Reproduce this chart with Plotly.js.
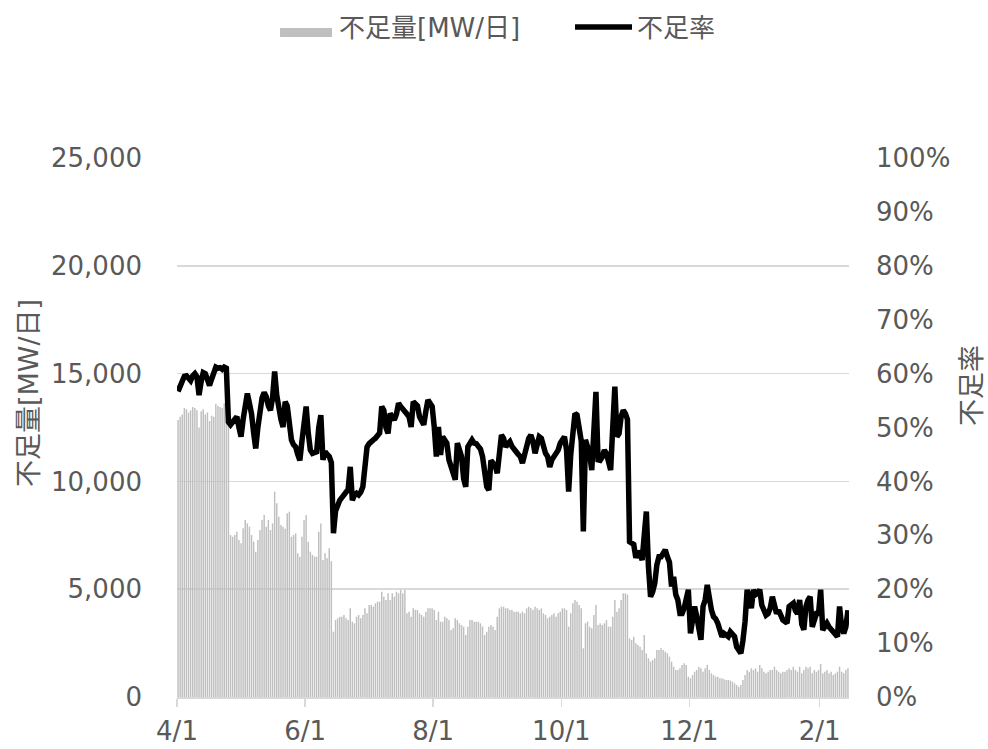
<!DOCTYPE html>
<html>
<head>
<meta charset="utf-8">
<script src="https://cdn.plot.ly/plotly-3.0.1.min.js"></script>
<style>html,body{margin:0;padding:0;background:#fff;}#chart{width:988px;height:749px;}</style>
</head>
<body>
<div id="chart"></div>
<script>
// Daily series starting 4/1 (first day) through 2/14
const startDate = '2021-04-01 12:00';
const seriesNames = ['不足量[MW/日]', '不足率'];
const axisTitles = ['不足量[MW/日]', '不足率'];

// 不足量 [MW/日]
const shortageMW = [
12850,13000,13100,13400,13350,13200,13300,13450,13400,13300,
12500,13250,13350,13100,13200,12800,13050,13000,13600,13500,
13450,13400,13620,13550,13500,7513,7436,7513,7667,7281,
7127,7822,8208,8053,7899,7513,7204,6740,7281,7744,
8208,8440,7899,8208,7744,8053,9523,8982,8363,7976,
7899,7800,8517,8595,7436,7513,7590,6663,6508,7436,
8208,8440,7204,6740,6586,6508,6508,7667,8053,6354,
6663,6431,6895,6300,3030,3571,3648,3725,3725,3803,
3648,3571,4112,3493,3416,3725,3803,3648,3803,4112,
3880,4266,4266,4189,4344,4421,4421,4885,4653,4498,
4808,4498,4808,4653,4885,4808,4962,4808,4962,3880,
3957,3725,4112,4035,4035,3880,3803,3725,3957,4112,
4112,4112,4035,3571,3957,3493,3493,3725,3648,3571,
3107,3184,3648,3571,3416,3339,3262,2875,3262,3571,
3571,3493,3493,3493,3416,3262,2875,3030,3262,3339,
3262,3107,3725,4112,4189,4189,4112,4112,4035,4035,
3957,3957,3957,3880,3957,3880,4112,4189,4112,4035,
4189,4112,4035,4112,3880,3803,3648,3725,3803,3880,
3725,3880,3957,4112,4112,4035,3262,3880,4344,4498,
4421,4266,4112,2257,3416,3493,3262,3184,3803,4266,
3339,3416,3339,3416,3571,3262,3262,3725,4498,3957,
4112,4498,4808,4808,4750,2720,2643,2797,2489,2411,
2334,2179,2875,2025,1792,1638,1715,1792,2179,2179,
2257,2179,2102,2025,1870,1638,1406,1251,1251,1329,
1483,1560,1483,942,865,1019,1174,1251,1406,1329,
1174,1329,1483,1251,1097,1019,942,942,865,865,
820,788,788,760,710,633,556,479,556,788,
1019,1251,1174,1329,1251,1329,1174,1483,1329,1174,
1097,1174,1251,1251,1406,1251,1174,1097,1174,1174,
1251,1329,1251,1406,1251,1174,1406,1097,1251,1406,
1329,1406,1097,1251,1174,1251,1530,1097,1174,1251,
1097,1174,1019,1097,1174,1406,1174,1097,1251,1329
];

// 不足率 [%]
const shortageRate = [
56.7,57.5,58.5,59.5,59.6,59.0,58.7,59.6,60.0,59.4,
56.0,58.5,60.2,60.0,58.5,57.8,59.0,60.5,61.2,61.0,
61.1,60.8,61.2,61.0,51.0,50.5,51.0,51.8,52.0,50.0,
48.3,51.5,55.0,56.3,54.5,52.5,49.0,46.1,50.0,53.9,
55.5,56.5,55.7,54.0,53.2,55.5,60.4,56.0,53.0,51.5,
50.1,54.8,54.0,51.0,47.7,46.8,46.4,45.0,43.9,47.5,
52.0,53.9,49.0,45.8,45.2,45.5,45.5,50.0,52.3,44.0,
45.5,45.0,44.6,43.5,30.4,34.5,36.0,36.5,37.0,37.5,
37.8,38.5,42.7,36.5,37.5,37.8,37.5,38.0,39.0,42.7,
46.4,47.0,47.5,47.7,48.0,48.5,49.0,53.9,53.2,50.0,
48.9,52.6,52.0,51.4,52.5,54.5,53.9,53.5,53.2,52.5,
52.0,50.1,54.8,54.5,54.0,52.0,51.0,50.5,53.0,55.1,
54.5,53.9,50.1,44.6,50.1,44.9,48.3,47.5,47.1,44.0,
42.7,42.1,40.3,47.1,45.5,44.6,40.5,39.0,46.4,47.4,
47.7,47.1,47.0,46.5,46.0,44.6,41.0,39.0,38.4,43.9,
43.4,43.0,41.5,44.5,48.6,48.0,46.4,47.0,47.4,46.5,
45.8,45.5,45.0,44.6,43.4,45.0,46.4,48.0,48.6,47.4,
45.2,47.5,48.3,48.0,46.5,45.2,44.6,42.7,44.0,44.6,
45.5,45.8,47.1,47.7,48.3,45.8,38.1,45.0,50.5,52.6,
52.3,49.0,47.5,30.7,47.7,46.4,45.0,42.1,51.0,56.6,
44.0,43.9,44.5,45.8,45.2,44.0,42.1,50.0,57.6,48.3,
48.9,52.0,53.2,52.6,51.5,28.8,28.5,28.3,25.8,27.0,
26.5,25.4,30.0,34.4,24.2,18.6,19.5,21.1,24.5,26.0,
26.0,26.5,27.3,26.0,25.0,20.5,22.3,19.0,18.0,15.5,
15.5,16.5,18.3,19.9,11.8,15.0,16.8,14.9,12.0,10.6,
16.8,18.0,20.8,17.5,16.1,14.9,14.5,13.7,12.5,11.2,
11.8,11.5,11.2,12.1,11.8,11.2,9.3,8.7,8.1,10.5,
14.0,19.9,18.0,16.5,19.9,19.0,19.3,19.9,17.0,16.0,
15.2,15.5,16.5,18.6,16.5,15.5,16.1,15.0,14.3,14.0,
13.7,16.8,17.0,17.4,16.0,15.5,18.0,13.5,12.5,16.8,
18.0,18.6,13.0,14.5,15.5,15.5,19.9,12.4,13.0,13.7,
13.0,12.5,11.8,11.5,11.2,16.8,13.0,11.8,13.0,16.1
];

const FONT = 'DejaVu Sans, Verdana, "Noto Sans CJK JP", sans-serif';
const GRAY = '#595959';
const BAR_COLOR = '#bfbfbf';
const LINE_COLOR = '#000000';
const DAY = 86400000;

const traces = [
  {
    type: 'bar', name: seriesNames[0], showlegend: false,
    x0: startDate, dx: DAY, y: shortageMW,
    marker: {color: BAR_COLOR, line: {width: 0}},
    yaxis: 'y'
  },
  {
    type: 'scatter', mode: 'lines', name: seriesNames[1], showlegend: false,
    x0: startDate, dx: DAY, y: shortageRate,
    line: {color: LINE_COLOR, width: 5.5},
    yaxis: 'y2'
  }
];

// legend drawn as paper-positioned swatches + labels
const legendShapes = [
  {type: 'rect', xref: 'paper', yref: 'paper', x0: 0.1533, x1: 0.2307, y0: 1.2245, y1: 1.2412,
   fillcolor: BAR_COLOR, line: {width: 0}},
  {type: 'line', xref: 'paper', yref: 'paper', x0: 0.5923, x1: 0.6771, y0: 1.2430, y1: 1.2430,
   line: {color: LINE_COLOR, width: 5.5}}
];
const textFont = {family: FONT, size: 26, color: GRAY};
const annotations = [
  {xref: 'paper', yref: 'paper', x: 0.2381, y: 1.2412, xanchor: 'left', yanchor: 'middle',
   text: seriesNames[0], showarrow: false, font: textFont},
  {xref: 'paper', yref: 'paper', x: 0.6815, y: 1.2412, xanchor: 'left', yanchor: 'middle',
   text: seriesNames[1], showarrow: false, font: textFont},
  {xref: 'paper', yref: 'paper', x: -0.2217, y: 0.564, xanchor: 'center', yanchor: 'middle',
   textangle: -90, text: axisTitles[0], showarrow: false, font: {family: FONT, size: 27, color: GRAY}},
  {xref: 'paper', yref: 'paper', x: 1.183, y: 0.579, xanchor: 'center', yanchor: 'middle',
   textangle: -90, text: axisTitles[1], showarrow: false, font: {family: FONT, size: 27, color: GRAY}}
];

const layout = {
  width: 988, height: 749,
  margin: {l: 177, r: 139, t: 158, b: 52},
  paper_bgcolor: '#fff', plot_bgcolor: '#fff',
  font: {family: FONT, color: GRAY, size: 26},
  bargap: 0.3,
  showlegend: false,
  shapes: legendShapes,
  annotations: annotations,
  xaxis: {
    type: 'date',
    range: ['2021-04-01', '2022-02-15'],
    tick0: '2021-04-01', dtick: 'M2', tickformat: '%-m/%-d',
    ticks: 'outside', ticklen: 8, tickcolor: '#d9d9d9', tickwidth: 1.5,
    ticklabelstandoff: 2,
    showline: true, linecolor: '#d9d9d9', linewidth: 1.5,
    showgrid: false, zeroline: false,
    tickfont: {family: FONT, size: 26, color: GRAY}
  },
  yaxis: {
    range: [0, 25000], dtick: 5000, tickformat: ',d',
    showgrid: true, gridcolor: '#d9d9d9', gridwidth: 1.5,
    zeroline: false, showline: false, ticks: '',
    ticklabelstandoff: 34,
    tickfont: {family: FONT, size: 26, color: GRAY}
  },
  yaxis2: {
    overlaying: 'y', side: 'right',
    range: [0, 100], dtick: 10, ticksuffix: '%',
    showgrid: false, zeroline: false, showline: false, ticks: '',
    ticklabelstandoff: 26,
    tickfont: {family: FONT, size: 26, color: GRAY}
  }
};

Plotly.newPlot('chart', traces, layout, {staticPlot: true, displayModeBar: false});
</script>
</body>
</html>
